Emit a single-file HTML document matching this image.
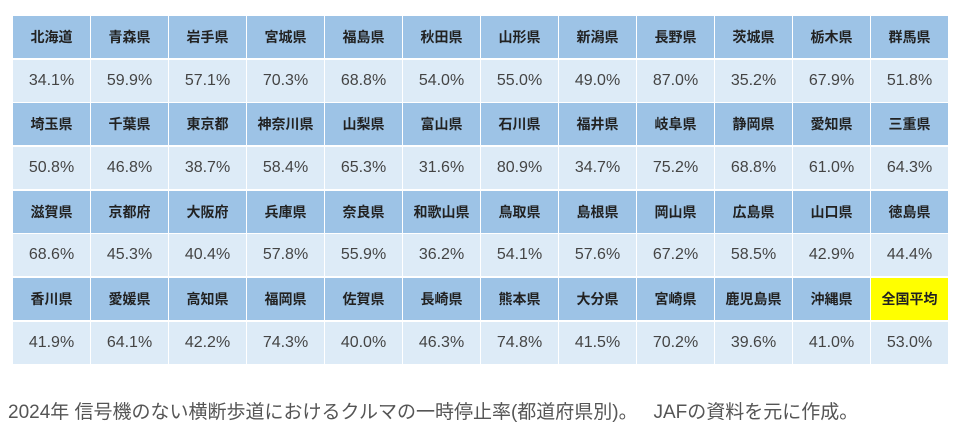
<!DOCTYPE html>
<html><head><meta charset="utf-8"><style>
body{margin:0;width:964px;height:426px;background:#fff;overflow:hidden;font-family:"Liberation Sans","Noto Sans CJK JP",sans-serif;position:relative}
.c{position:absolute;width:77px;height:42px;line-height:42px;text-align:center}
.h{background:#9dc3e6;font-weight:bold;font-size:14px;color:#222}
.v{background:#ddebf7;font-size:16px;color:#444}
.y{background:#ffff00}
.cap{position:absolute;left:8px;top:397px;font-size:19px;color:#555;white-space:pre}
</style></head><body>
<div id="t"></div>
<div class="cap">2024年 信号機のない横断歩道におけるクルマの一時停止率(都道府県別)。   JAFの資料を元に作成。</div>
<script>
var H=[["北海道","青森県","岩手県","宮城県","福島県","秋田県","山形県","新潟県","長野県","茨城県","栃木県","群馬県"],
["埼玉県","千葉県","東京都","神奈川県","山梨県","富山県","石川県","福井県","岐阜県","静岡県","愛知県","三重県"],
["滋賀県","京都府","大阪府","兵庫県","奈良県","和歌山県","鳥取県","島根県","岡山県","広島県","山口県","徳島県"],
["香川県","愛媛県","高知県","福岡県","佐賀県","長崎県","熊本県","大分県","宮崎県","鹿児島県","沖縄県","全国平均"]];
var V=[["34.1%","59.9%","57.1%","70.3%","68.8%","54.0%","55.0%","49.0%","87.0%","35.2%","67.9%","51.8%"],
["50.8%","46.8%","38.7%","58.4%","65.3%","31.6%","80.9%","34.7%","75.2%","68.8%","61.0%","64.3%"],
["68.6%","45.3%","40.4%","57.8%","55.9%","36.2%","54.1%","57.6%","67.2%","58.5%","42.9%","44.4%"],
["41.9%","64.1%","42.2%","74.3%","40.0%","46.3%","74.8%","41.5%","70.2%","39.6%","41.0%","53.0%"]];
var s="";
for(var r=0;r<4;r++)for(var i=0;i<12;i++){
 var x=13+i*78, y1=Math.round(16+r*87.3), y2=Math.round(16+r*87.3+43.6);
 var yc=(r==3&&i==11)?" y":"";
 s+='<div class="c h'+yc+'" style="left:'+x+'px;top:'+y1+'px">'+H[r][i]+'</div>';
 s+='<div class="c v" style="left:'+x+'px;top:'+y2+'px">'+V[r][i]+'</div>';
}
document.getElementById("t").innerHTML=s;
</script>
</body></html>
